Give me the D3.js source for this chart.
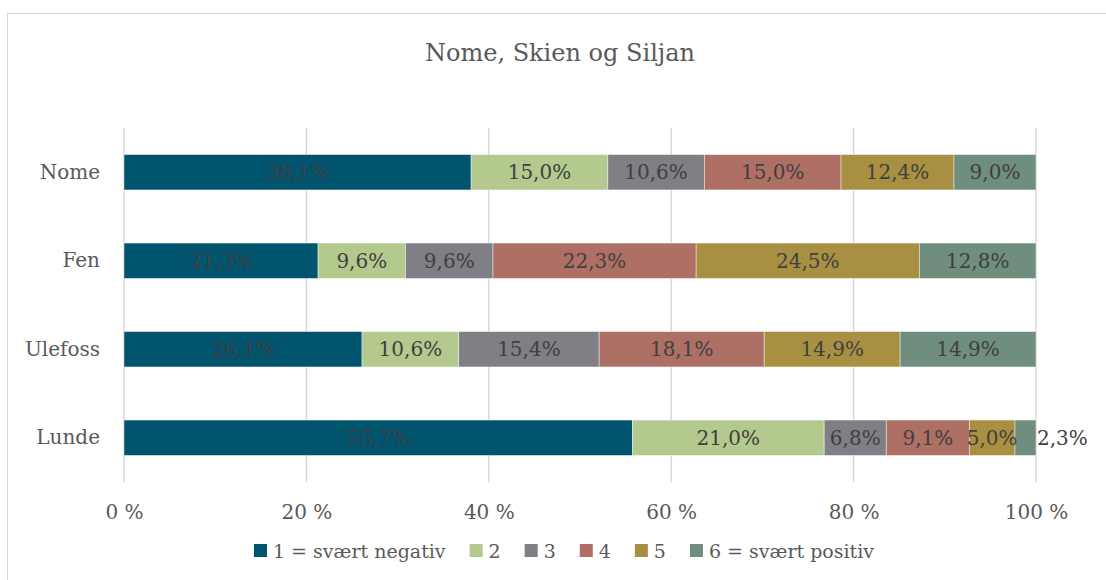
<!DOCTYPE html>
<html>
<head>
<meta charset="utf-8">
<script src="https://cdn.jsdelivr.net/npm/d3@7"></script>
<style>
  html, body { margin: 0; padding: 0; background: #fff; }
  svg { display: block; }
  text { font-family: "DejaVu Serif", "Liberation Serif", serif; }
</style>
</head>
<body>
<svg id="chart" width="1106" height="580"></svg>
<script>
const title = "Nome, Skien og Siljan";
const categories = ["Nome", "Fen", "Ulefoss", "Lunde"];
const seriesNames = ["1 = svært negativ", "2", "3", "4", "5", "6 = svært positiv"];
const seriesColors = ["#01546D", "#B3C98D", "#7F7F85", "#AE6F65", "#A88F41", "#6F8E7E"];
const s1 = [38.1, 21.3, 26.1, 55.7];
const s2 = [15.0, 9.6, 10.6, 21.0];
const s3 = [10.6, 9.6, 15.4, 6.8];
const s4 = [15.0, 22.3, 18.1, 9.1];
const s5 = [12.4, 24.5, 14.9, 5.0];
const s6 = [9.0, 12.8, 14.9, 2.3];
const tickValues = [0, 20, 40, 60, 80, 100];

const seriesValues = [s1, s2, s3, s4, s5, s6];
const rows = categories.map((c, i) => {
  const r = { cat: c };
  seriesNames.forEach((s, k) => r[s] = seriesValues[k][i]);
  return r;
});

const svg = d3.select("#chart");

// chart border
svg.append("rect").attr("x", 7.5).attr("y", 13.5).attr("width", 1110).attr("height", 580)
  .attr("fill", "#fff").attr("stroke", "#d9d9d9").attr("stroke-width", 1);

svg.append("text").attr("x", 560).attr("y", 61).attr("text-anchor", "middle")
  .attr("fill", "#595959").style("font-size", "24px").text(title);

const x = d3.scaleLinear().domain([0, 100]).range([124, 1036]);
const y = d3.scaleBand().domain(categories).range([128, 482]).paddingInner(0.6).paddingOuter(0.3);

// gridlines
svg.append("g").selectAll("line").data(tickValues).join("line")
  .attr("x1", d => x(d)).attr("x2", d => x(d))
  .attr("y1", 128).attr("y2", 482)
  .attr("stroke", "#d9d9d9").attr("stroke-width", 1.5);

// x axis tick labels
const xAxis = d3.axisBottom(x).tickValues(tickValues).tickSize(0).tickPadding(0)
  .tickFormat(d => d + " %");
const gx = svg.append("g").attr("transform", "translate(0,505)").call(xAxis);
gx.select(".domain").remove();
gx.selectAll("text").attr("fill", "#595959").style("font-size", "20px")
  .style("font-family", "DejaVu Serif, serif");

// y axis labels
const yAxis = d3.axisLeft(y).tickSize(0).tickPadding(0);
const gy = svg.append("g").attr("transform", "translate(100,0)").call(yAxis);
gy.select(".domain").remove();
gy.selectAll("text").attr("fill", "#595959").style("font-size", "20px")
  .style("font-family", "DejaVu Serif, serif");

const stack = d3.stack().keys(seriesNames).offset(d3.stackOffsetExpand);
const stacked = stack(rows);

const fmt = v => v.toFixed(1).replace(".", ",") + "%";

stacked.forEach((layer, k) => {
  const g = svg.append("g");
  g.selectAll("rect").data(layer).join("rect")
    .attr("x", d => x(d[0] * 100))
    .attr("width", d => x(d[1] * 100) - x(d[0] * 100))
    .attr("y", d => y(d.data.cat))
    .attr("height", y.bandwidth())
    .attr("fill", seriesColors[k])
    .attr("stroke", "#ffffff").attr("stroke-opacity", 0.55).attr("stroke-width", 0.8);
});

stacked.forEach((layer, k) => {
  const g = svg.append("g");
  layer.forEach(d => {
    const x0 = x(d[0] * 100), x1 = x(d[1] * 100);
    const t = g.append("text")
      .attr("y", y(d.data.cat) + y.bandwidth() / 2)
      .attr("dy", "0.35em")
      .attr("fill", "#404040").style("font-size", "20px")
      .text(fmt(d.data[layer.key]));
    const tw = t.node().getComputedTextLength();
    if (tw > (x1 - x0) * 1.5) {
      t.attr("x", x1 + 1).attr("text-anchor", "start");
    } else {
      t.attr("x", (x0 + x1) / 2).attr("text-anchor", "middle");
    }
  });
});

// legend
const legend = svg.append("g");
let cx = 0;
seriesNames.forEach((s, k) => {
  const g = legend.append("g");
  g.append("rect").attr("x", 0).attr("y", -7).attr("width", 13).attr("height", 13).attr("fill", seriesColors[k]);
  const t = g.append("text").attr("x", 19).attr("y", 0).attr("dy", "0.35em")
    .attr("fill", "#595959").style("font-size", "19px").text(s);
  const w = 19 + t.node().getComputedTextLength();
  g.attr("transform", `translate(${cx},0)`);
  cx += w + 24;
});
const totalW = cx - 24;
legend.attr("transform", `translate(${564 - totalW / 2},551)`);
</script>
</body>
</html>
